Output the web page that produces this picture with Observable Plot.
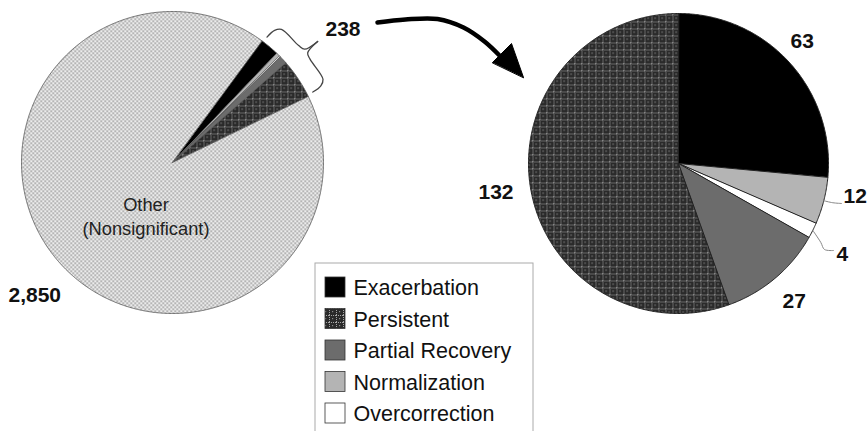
<!DOCTYPE html>
<html><head><meta charset="utf-8">
<script src="https://cdn.jsdelivr.net/npm/d3@7"></script>
<script src="https://cdn.jsdelivr.net/npm/@observablehq/plot@0.6"></script>
<style>
body{margin:0;background:#fff;}
#chart{width:868px;height:431px;overflow:hidden;}
</style>
</head><body><div id="chart"></div>
<script>
// ---- data ----
const categories = ["Exacerbation", "Normalization", "Overcorrection", "Partial Recovery", "Persistent"];
const counts = [63, 12, 4, 27, 132];
const legendOrder = ["Exacerbation", "Persistent", "Partial Recovery", "Normalization", "Overcorrection"];
const otherName = "Other";
const otherText = "Other\n(Nonsignificant)";
const otherCount = 2850;
const subsetLabel = "238";
const otherLabel = "2,850";
const valueLabels = ["63", "12", "4", "27", "132"];

// ---- layout ----
const W = 868, H = 431;
const leftPie = {cx: 172, cy: 162, r: 151, start: 36.3};
const rightPie = {cx: 678, cy: 163, r: 150, start: 0};
const fills = {
  "Exacerbation": "#000000",
  "Normalization": "#b4b4b4",
  "Overcorrection": "#ffffff",
  "Partial Recovery": "#6c6c6c",
  "Persistent": "url(#pPersist)",
  "Other": "url(#pOther)"
};
// label anchors (start x, middle y) for right pie values, in category order
const valueLabelPos = [[790, 40.5], [843, 195.5], [836, 253.5], [782, 300.5], [478, 191.5]];
const arrowPts = [[377, 22], [405, 19], [437, 18.5], [463, 27], [484, 41], [499, 55]];
const arrowHead = [[492, 62], [511, 43], [523, 77]];
const legendBox = {x1: 315, x2: 533, y1: 263, y2: 445};
const legendRow0 = 287, legendStep = 31.5;

const rad = d => d * Math.PI / 180;
const polar = (pie, a, rr) => ({x: pie.cx + rr * Math.sin(rad(a)), y: pie.cy - rr * Math.cos(rad(a))});

function slices(pie, items, key) {
  const total = d3.sum(items, d => d.value);
  let a = pie.start;
  const out = [];
  for (const it of items) {
    const span = it.value / total * 360;
    const a0 = a, a1 = a + span;
    const n = Math.max(2, Math.ceil(span / 0.5));
    const pts = [{x: pie.cx, y: pie.cy}];
    for (let i = 0; i <= n; i++) pts.push(polar(pie, a0 + (a1 - a0) * i / n, pie.r));
    out.push({...it, a0, a1, mid: (a0 + a1) / 2, pts, key: key + it.name});
    a = a1;
  }
  return out;
}

const subset = categories.map((c, i) => ({name: c, value: counts[i]}));
const leftSlices = slices(leftPie, [...subset, {name: otherName, value: otherCount}], "L");
const rightSlices = slices(rightPie, subset, "R");

const rows = s => s.flatMap(d => d.pts.map(p => ({...p, key: d.key, fill: fills[d.name]})));
const leftRows = rows(leftSlices);
const rightRows = rows(rightSlices);

// leader lines for small slices (Normalization, Overcorrection)
const leaders = [];
{
  const n = rightSlices[1], o = rightSlices[2];
  const p1 = polar(rightPie, n.mid, rightPie.r);
  leaders.push({k: "n", ...p1}, {k: "n", x: p1.x + 9, y: p1.y + 2}, {k: "n", x: 841, y: 203});
  const p2 = polar(rightPie, o.mid, rightPie.r);
  leaders.push({k: "o", ...p2}, {k: "o", x: p2.x + 8, y: p2.y + 12}, {k: "o", x: 824, y: 249}, {k: "o", x: 833, y: 250});
}

// brace spanning the 238 wedge on the left pie
const a0 = leftSlices[0].a0, a1 = leftSlices[4].a1, am = (a0 + a1) / 2;
const R = leftPie.r;
const braceSpec = [
  ["b1", a0 + 0.7, 6], ["b1", a0 + 1.4, 16], ["b1", a0 + 3, 21], ["b1", am - 3, 21], ["b1", am - 0.8, 23], ["b1", am, 38],
  ["b2", a1 - 0.7, 6], ["b2", a1 - 1.4, 16], ["b2", a1 - 3, 21], ["b2", am + 3, 21], ["b2", am + 0.8, 23], ["b2", am, 38]
];
const brace = braceSpec.map(([k, a, off]) => ({k, ...polar(leftPie, a, R + off)}));

const legendRows = legendOrder.map((name, i) => ({name, fill: fills[name], y: legendRow0 + i * legendStep}));

const font = "'Liberation Sans', Arial, Helvetica, sans-serif";

const plot = Plot.plot({
  width: W, height: H,
  margin: 0,
  x: {type: "linear", domain: [0, W], range: [0, W], axis: null},
  y: {type: "linear", domain: [0, H], range: [0, H], axis: null},
  color: {type: "identity"},
  style: {fontFamily: font, background: "white", overflow: "hidden"},
  marks: [
    // left pie
    Plot.line(leftRows, {x: "x", y: "y", z: "key", fill: "fill", stroke: "#555", strokeWidth: 0.8, curve: "linear-closed"}),
    // right pie
    Plot.line(rightRows, {x: "x", y: "y", z: "key", fill: "fill", stroke: "#222", strokeWidth: 1, curve: "linear-closed"}),
    // brace
    Plot.line(brace, {x: "x", y: "y", z: "k", stroke: "#444", strokeWidth: 1.3, curve: "catmull-rom"}),
    // leaders
    Plot.line(leaders, {x: "x", y: "y", z: "k", stroke: "#888", strokeWidth: 1, curve: "catmull-rom"}),
    // arrow
    Plot.line(arrowPts.map(([x, y]) => ({x, y})), {x: "x", y: "y", stroke: "#000", strokeWidth: 4.5, curve: "catmull-rom"}),
    Plot.line(arrowHead.map(([x, y]) => ({x, y})), {x: "x", y: "y", fill: "#000", stroke: "#000", strokeWidth: 1, curve: "linear-closed"}),
    // labels
    Plot.text([subsetLabel], {x: 325, y: 28.3, text: d => d, textAnchor: "start", fontSize: 21, fontWeight: "bold", fill: "#111"}),
    Plot.text([otherLabel], {x: 8, y: 294.3, text: d => d, textAnchor: "start", fontSize: 21, fontWeight: "bold", fill: "#111"}),
    Plot.text([otherText], {x: 145.5, y: 215, text: d => d, textAnchor: "middle", fontSize: 18.3, lineHeight: 1.3, fill: "#222"}),
    Plot.text(valueLabels, {x: (d, i) => valueLabelPos[i][0], y: (d, i) => valueLabelPos[i][1], text: d => d, textAnchor: "start", fontSize: 21, fontWeight: "bold", fill: "#111"}),
    // legend
    Plot.rect([legendBox], {x1: "x1", x2: "x2", y1: "y1", y2: "y2", fill: "white", stroke: "#aaa", strokeWidth: 1}),
    Plot.rect(legendRows, {x1: 325, x2: 345, y1: d => d.y - 10, y2: d => d.y + 10, fill: "fill", stroke: "#333", strokeWidth: 0.8}),
    Plot.text(legendRows, {x: 353, y: d => d.y + 1, text: "name", textAnchor: "start", fontSize: 21.5, fill: "#111"})
  ]
});

// patterns
const defs = d3.select(plot).insert("defs", ":first-child");
const po = defs.append("pattern").attr("id", "pOther").attr("patternUnits", "userSpaceOnUse").attr("width", 4).attr("height", 4);
po.append("rect").attr("width", 4).attr("height", 4).attr("fill", "#ececec");
po.append("rect").attr("x", 0).attr("y", 0).attr("width", 1.4).attr("height", 1.4).attr("fill", "#7c7c7c");
po.append("rect").attr("x", 2).attr("y", 2).attr("width", 1.4).attr("height", 1.4).attr("fill", "#7c7c7c");
const pp = defs.append("pattern").attr("id", "pPersist").attr("patternUnits", "userSpaceOnUse").attr("width", 7).attr("height", 7);
pp.append("rect").attr("width", 7).attr("height", 7).attr("fill", "#2a2a2a");
for (let i = 0; i < 7; i += 2) {
  pp.append("rect").attr("x", i).attr("y", 0).attr("width", 1).attr("height", 1).attr("fill", "#a5a5a5");
  pp.append("rect").attr("x", 0).attr("y", i).attr("width", 1).attr("height", 1).attr("fill", "#a5a5a5");
}
pp.append("rect").attr("x", 3).attr("y", 3).attr("width", 1.2).attr("height", 1.2).attr("fill", "#8a8a8a");

document.getElementById("chart").appendChild(plot);
</script>
</body></html>
